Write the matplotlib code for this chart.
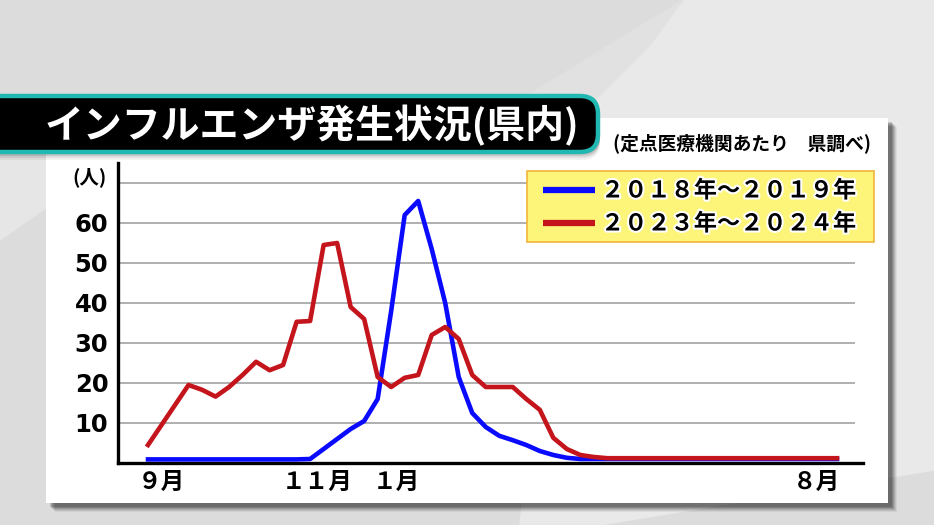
import matplotlib.pyplot as plt
import matplotlib.patheffects as pe
from matplotlib.patches import Rectangle, FancyBboxPatch, Polygon
import numpy as np

plt.rcParams["font.family"] = ["Noto Sans CJK JP", "DejaVu Sans"]

# weekly cases per sentinel site, September week 1 .. August
weeks = np.arange(52)
flu2018 = [0.9, 0.9, 0.9, 0.9, 0.9, 0.9, 0.9, 0.9, 0.9, 0.9, 0.9, 0.9,
           1.0, 3.5, 6.0, 8.5, 10.5, 16.0, 38.0, 62.0, 65.5, 53.5, 40.0, 21.5,
           12.5, 9.0, 6.8, 5.7, 4.5, 3.0, 2.0, 1.3, 1.0, 1.0, 1.0, 1.0,
           1.0, 1.0, 1.0, 1.0, 1.0, 1.0, 1.0, 1.0, 1.0, 1.0, 1.0, 1.0,
           1.0, 1.0, 1.0, 1.0]
flu2023 = [4.5, 9.5, 14.5, 19.5, 18.3, 16.6, 19.0, 22.0, 25.3, 23.2, 24.5, 35.3,
           35.5, 54.5, 55.0, 39.0, 36.0, 21.5, 19.0, 21.3, 22.0, 32.0, 34.0, 31.0,
           22.0, 19.0, 19.0, 19.0, 16.0, 13.3, 6.3, 3.5, 2.0, 1.5, 1.2, 1.2,
           1.2, 1.2, 1.2, 1.2, 1.2, 1.2, 1.2, 1.2, 1.2, 1.2, 1.2, 1.2,
           1.2, 1.2, 1.2, 1.2]
seriesNames = ["２０１８年～２０１９年", "２０２３年～２０２４年"]
seriesColors = ["#0a0aff", "#c4141c"]

yTicks = [10, 20, 30, 40, 50, 60]
yTickLabels = ["10", "20", "30", "40", "50", "60"]
gridValues = [10, 20, 30, 40, 50, 60, 70]
monthPos = [1.0, 12.5, 18.4, 49.5]
monthLabels = ["９月", "１１月", "１月", "８月"]

titleText = "インフルエンザ発生状況(県内)"
sourceText = "(定点医療機関あたり\u3000県調べ)"
unitText = "(人)"

W, H = 934, 525
fig = plt.figure(figsize=(W / 100, H / 100), dpi=100)


def figRect(x0, y0, x1, y1):
    return [x0 / W, 1 - y1 / H, (x1 - x0) / W, (y1 - y0) / H]


def pixelAxes(z):
    a = fig.add_axes([0, 0, 1, 1], zorder=z)
    a.set_xlim(0, W)
    a.set_ylim(H, 0)
    a.axis("off")
    a.patch.set_alpha(0)
    return a


bg = pixelAxes(0)
bg.add_patch(Rectangle((0, 0), W, H, color="#dcdcdc", zorder=0))
bg.add_patch(Polygon([(683, 0), (W, 0), (W, 470), (600, 525), (520, 525), (560, 120)],
                     color="#e9e9e9", zorder=1))
bg.add_patch(Polygon([(520, 100), (683, 0), (650, 45), (595, 100)], color="#e1e1e1", zorder=1))
bg.add_patch(Polygon([(0, 150), (50, 150), (50, 205), (0, 240)], color="#e6e6e6", zorder=1))

# panel with soft shadow
px0, py0, px1, py1 = 46, 118, 888, 503
for i, alpha in enumerate([0.06, 0.08, 0.1, 0.12, 0.14, 0.16]):
    off = 9 - i
    bg.add_patch(Rectangle((px0 + off, py0 + off), px1 - px0, py1 - py0,
                           color="black", alpha=alpha, lw=0, zorder=2))
bg.add_patch(Rectangle((px0, py0), px1 - px0, py1 - py0, color="white", lw=0, zorder=3))

# chart
step = (837 - 148) / 51
ax = fig.add_axes(figRect(118, 163, 863, 463), zorder=2)
ax.patch.set_alpha(0)
xLeft = -(148 - 118) / step
ax.set_xlim(xLeft, 51 + (863 - 837) / step)
ax.set_ylim(0, 75)
ax.hlines(gridValues, xLeft, (855 - 148) / step, color="#a9a9a9", lw=1.3, zorder=1)
ax.plot(weeks, flu2018, color=seriesColors[0], lw=3.3, solid_joinstyle="round", zorder=3)
ax.plot(weeks, flu2023, color=seriesColors[1], lw=3.3, solid_joinstyle="round", zorder=4)
for side in ["top", "right"]:
    ax.spines[side].set_visible(False)
for side in ["left", "bottom"]:
    ax.spines[side].set_linewidth(2.4)
    ax.spines[side].set_color("black")
ax.set_yticks(yTicks)
ax.set_yticklabels(yTickLabels, fontsize=17.5, fontweight="bold", family="DejaVu Sans")
ax.set_xticks(monthPos)
ax.set_xticklabels(monthLabels, fontsize=17, fontweight="bold")
ax.tick_params(axis="y", length=0, pad=7)
ax.tick_params(axis="x", length=0, pad=5)

fg = pixelAxes(4)
fg.text(89, 177, unitText, fontsize=14, fontweight="bold", ha="center", va="center")

# legend box
fg.add_patch(Rectangle((527, 171), 347, 71, facecolor="#fdf47a", edgecolor="#f2b43a", lw=1.2))
for i, (name, col) in enumerate(zip(seriesNames, seriesColors)):
    yy = 190 + i * 33
    fg.plot([543, 595], [yy, yy], color=col, lw=4.5, solid_capstyle="butt")
    fg.text(601, yy + 1, name, fontsize=16.7, fontweight="bold", ha="left", va="center",
            path_effects=[pe.withStroke(linewidth=3, foreground="white")])

# title bar
for i, alpha in enumerate([0.05, 0.08, 0.11, 0.14]):
    off = 8 - 2 * i
    fg.add_patch(FancyBboxPatch((-40, 96 + off), 640, 56, boxstyle="round,pad=0,rounding_size=18",
                                color="black", alpha=alpha, lw=0))
fg.add_patch(FancyBboxPatch((-40, 96), 638, 56, boxstyle="round,pad=0,rounding_size=18",
                            facecolor="black", edgecolor="#22b8b2", lw=3.2))
fg.text(45, 126, titleText, fontsize=28, fontweight="bold", color="white", ha="left", va="center")
fg.text(613, 143, sourceText, fontsize=13.5, fontweight="bold", color="black", ha="left", va="center")

fig.savefig("out.png", dpi=100)
